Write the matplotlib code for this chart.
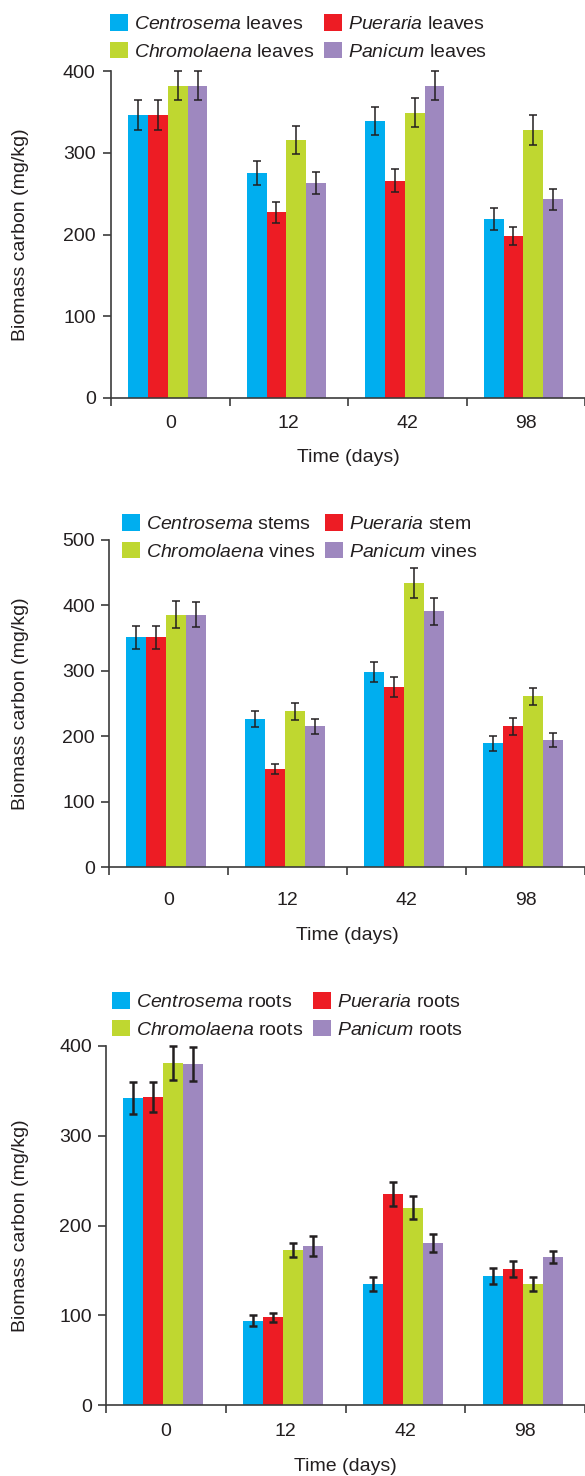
import numpy as np
import matplotlib
matplotlib.use('Agg')
import matplotlib.pyplot as plt

plt.rcParams['font.family'] = ['Liberation Sans', 'DejaVu Sans']
plt.rcParams['mathtext.fontset'] = 'custom'
plt.rcParams['mathtext.it'] = 'Liberation Sans:italic'
plt.rcParams['mathtext.rm'] = 'Liberation Sans'

days = ['0', '12', '42', '98']
species = ['Centrosema', 'Pueraria', 'Chromolaena', 'Panicum']
colors = ['#00aeef', '#ed1c24', '#bfd730', '#9e88bf']

# leaves
centrosema_leaves = [346, 275, 339, 219]
centrosema_leaves_err = [18, 15, 17, 13]
pueraria_leaves = [346, 227, 266, 198]
pueraria_leaves_err = [18, 13, 14, 11]
chromolaena_leaves = [382, 316, 349, 328]
chromolaena_leaves_err = [18, 17, 18, 18]
panicum_leaves = [382, 263, 382, 243]
panicum_leaves_err = [18, 14, 18, 13]
leaves_parts = ['leaves', 'leaves', 'leaves', 'leaves']

# stems / vines
centrosema_stems = [351, 226, 298, 189]
centrosema_stems_err = [18, 12, 15, 11]
pueraria_stem = [351, 150, 275, 215]
pueraria_stem_err = [18, 8, 15, 13]
chromolaena_vines = [386, 238, 434, 261]
chromolaena_vines_err = [20, 13, 23, 13]
panicum_vines = [386, 215, 391, 194]
panicum_vines_err = [19, 12, 21, 11]
stem_parts = ['stems', 'stem', 'vines', 'vines']

# roots
centrosema_roots = [342, 94, 135, 144]
centrosema_roots_err = [18, 6, 8, 9]
pueraria_roots = [343, 98, 235, 152]
pueraria_roots_err = [17, 5, 13, 9]
chromolaena_roots = [381, 173, 220, 135]
chromolaena_roots_err = [19, 8, 13, 8]
panicum_roots = [380, 177, 180, 165]
panicum_roots_err = [19, 11, 10, 7]
root_parts = ['roots', 'roots', 'roots', 'roots']

W, H = 585, 1476
ink = '#231f20'
spine = '#3c3c3c'

fig = plt.figure(figsize=(W / 100, H / 100), dpi=100)


def panel(rect, means, errs, parts, ymax, ystep, leg_xy, xlab_off, xpad, ypad, elw):
    # rect in pixels: left, axis-zero y, top y
    left, y0, ytop = rect
    axw = W - left
    axh = y0 - ytop
    ax = fig.add_axes([left / W, (H - y0) / H, axw / W, axh / H])

    x = np.arange(len(days))
    bw = 0.167
    for i in range(4):
        pos = x - 0.02 + (i - 1.5) * bw
        ax.bar(pos, means[i], bw, color=colors[i], zorder=2,
               label=r'$\it{%s}$ %s' % (species[i], parts[i]))
        ax.errorbar(pos, means[i], yerr=errs[i], fmt='none', ecolor=ink,
                    elinewidth=elw, capsize=3.2, capthick=elw, zorder=3,
                    clip_on=False)

    ax.set_xlim(-0.5, 3.5)
    ax.set_ylim(0, ymax)
    ax.set_yticks(np.arange(0, ymax + 1, ystep))
    ax.set_xticks(x)
    ax.set_xticklabels(days)
    ax.set_xticks(np.arange(-0.5, 4, 1), minor=True)
    ax.tick_params(axis='x', which='major', length=0, pad=xpad, labelsize=14, labelcolor=ink)
    ax.tick_params(axis='x', which='minor', length=6, width=1.2, color=spine, direction='out')
    ax.tick_params(axis='y', length=6, width=1.2, color=spine, pad=ypad, labelsize=14, labelcolor=ink)

    for s in ['top', 'right']:
        ax.spines[s].set_visible(False)
    for s in ['left', 'bottom']:
        ax.spines[s].set_color(spine)
        ax.spines[s].set_linewidth(1.2)

    ax.set_ylabel('Biomass carbon (mg/kg)', fontsize=14, color=ink)
    ax.yaxis.set_label_coords(-(left - 29) / axw, 0.5)
    ax.set_xlabel('Time (days)', fontsize=14, color=ink)
    ax.xaxis.set_label_coords(0.5, -xlab_off / axh)

    h, l = ax.get_legend_handles_labels()
    order = [0, 2, 1, 3]
    ax.legend([h[k] for k in order], [l[k] for k in order], ncol=2,
              loc='upper left', bbox_to_anchor=(leg_xy[0] / W, 1 - leg_xy[1] / H),
              bbox_transform=fig.transFigure, frameon=False, fontsize=14,
              borderpad=0, borderaxespad=0, handlelength=0.93, handleheight=0.93,
              handletextpad=0.3, columnspacing=0.5, labelspacing=0.45,
              labelcolor=ink)
    return ax


panel((111, 398, 71),
      [centrosema_leaves, pueraria_leaves, chromolaena_leaves, panicum_leaves],
      [centrosema_leaves_err, pueraria_leaves_err, chromolaena_leaves_err, panicum_leaves_err],
      leaves_parts, 400, 100, (110, 14), 51, 12, 5, 1.1)

panel((109, 867, 540),
      [centrosema_stems, pueraria_stem, chromolaena_vines, panicum_vines],
      [centrosema_stems_err, pueraria_stem_err, chromolaena_vines_err, panicum_vines_err],
      stem_parts, 500, 100, (122, 514), 60, 18, 4, 1.1)

panel((106, 1405, 1046),
      [centrosema_roots, pueraria_roots, chromolaena_roots, panicum_roots],
      [centrosema_roots_err, pueraria_roots_err, chromolaena_roots_err, panicum_roots_err],
      root_parts, 400, 100, (112, 992), 53, 13, 4, 1.8)

fig.savefig('out.png', dpi=100)
